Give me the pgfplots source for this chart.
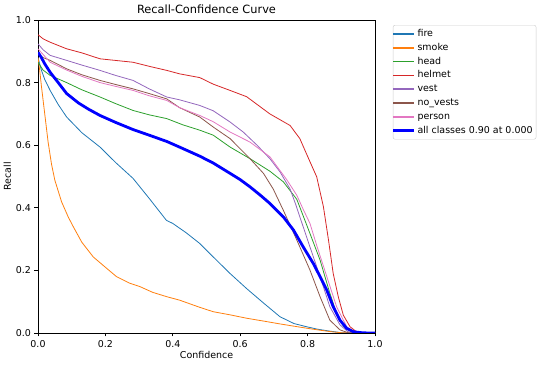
\documentclass[border=0pt]{standalone}
\usepackage{pgfplots}
\pgfplotsset{compat=1.18}
\usepackage{fontspec}
\setmainfont{DejaVu Sans}
\definecolor{cfire}{HTML}{1F77B4}
\definecolor{csmoke}{HTML}{FF7F0E}
\definecolor{chead}{HTML}{2CA02C}
\definecolor{chelmet}{HTML}{D62728}
\definecolor{cvest}{HTML}{9467BD}
\definecolor{cnovest}{HTML}{8C564B}
\definecolor{cperson}{HTML}{E377C2}
\begin{document}
\begin{tikzpicture}
\path[use as bounding box] (0,0) rectangle (550bp,367bp);
\begin{axis}[
  at={(38bp,34bp)}, anchor=south west,
  scale only axis, width=337bp, height=313bp,
  xmin=0, xmax=1, ymin=0, ymax=1,
  xtick={0,0.2,...,1}, ytick={0,0.2,...,1},
  xticklabel style={/pgf/number format/.cd,fixed,fixed zerofill,precision=1},
  yticklabel style={/pgf/number format/.cd,fixed,fixed zerofill,precision=1},
  /pgf/number format/assume math mode=true,
  tick label style={font=\fontsize{9.5}{11.4}\selectfont},
  label style={font=\fontsize{9.5}{11.4}\selectfont},
  title style={font=\fontsize{11.4}{13.7}\selectfont, yshift=-3bp},
  title={Recall-Confidence Curve},
  xlabel={Confidence}, ylabel={Recall},
  xlabel style={yshift=3bp}, ylabel style={yshift=-2bp},
  tick align=outside, major tick length=3.5bp,
  xtick pos=bottom, ytick pos=left,
  axis line style={line width=0.8bp},
  every tick/.style={black, line width=0.8bp},
  legend cell align=left,
  legend style={at={(1.053,0.984)}, anchor=north west,
    font=\fontsize{9.5}{11.4}\selectfont, draw=black!20, rounded corners=2bp,
    row sep=2.4bp, inner xsep=0bp, inner ysep=3bp,
    nodes={inner ysep=1bp, inner xsep=3.5bp, text height=7.2bp, text depth=2.2bp}},
  every axis plot/.append style={line width=0.8bp},
]
\addlegendimage{legend image code/.code={\path[fill=cfire, draw=none, sharp corners] (0bp,-0.8bp) rectangle (21bp,0.8bp);}}\addlegendentry{fire}
\addlegendimage{legend image code/.code={\path[fill=csmoke, draw=none, sharp corners] (0bp,-0.8bp) rectangle (21bp,0.8bp);}}\addlegendentry{smoke}
\addlegendimage{legend image code/.code={\path[fill=chead, draw=none, sharp corners] (0bp,-0.8bp) rectangle (21bp,0.8bp);}}\addlegendentry{head}
\addlegendimage{legend image code/.code={\path[fill=chelmet, draw=none, sharp corners] (0bp,-0.8bp) rectangle (21bp,0.8bp);}}\addlegendentry{helmet}
\addlegendimage{legend image code/.code={\path[fill=cvest, draw=none, sharp corners] (0bp,-0.8bp) rectangle (21bp,0.8bp);}}\addlegendentry{vest}
\addlegendimage{legend image code/.code={\path[fill=cnovest, draw=none, sharp corners] (0bp,-0.8bp) rectangle (21bp,0.8bp);}}\addlegendentry{no\_vests}
\addlegendimage{legend image code/.code={\path[fill=cperson, draw=none, sharp corners] (0bp,-0.8bp) rectangle (21bp,0.8bp);}}\addlegendentry{person}
\addlegendimage{legend image code/.code={\path[fill=blue, draw=none, sharp corners] (0bp,-1.4bp) rectangle (21bp,1.4bp);}}\addlegendentry{all classes 0.90 at 0.000}
% fire
\addplot[draw=cfire, forget plot] coordinates {(0,0.88) (0.01,0.84) (0.02,0.81) (0.036,0.775) (0.06,0.73) (0.085,0.69) (0.13,0.64) (0.184,0.594) (0.23,0.545) (0.282,0.494) (0.33,0.43) (0.381,0.36) (0.40,0.35) (0.44,0.32) (0.48,0.286) (0.52,0.243) (0.57,0.19) (0.619,0.142) (0.67,0.095) (0.718,0.052) (0.76,0.03) (0.797,0.02) (0.83,0.012) (0.866,0.006) (0.9,0.001) (0.93,0) (1,0)};
% smoke
\addplot[draw=csmoke, forget plot] coordinates {(0,0.88) (0.005,0.84) (0.01,0.79) (0.02,0.70) (0.03,0.61) (0.04,0.54) (0.05,0.488) (0.07,0.419) (0.09,0.37) (0.105,0.339) (0.13,0.29) (0.164,0.243) (0.2,0.21) (0.233,0.18) (0.27,0.16) (0.303,0.148) (0.34,0.13) (0.382,0.116) (0.42,0.105) (0.48,0.082) (0.52,0.068) (0.57,0.058) (0.62,0.047) (0.67,0.038) (0.718,0.029) (0.77,0.02) (0.817,0.012) (0.87,0.004) (0.9,0.001) (0.93,0) (1,0)};
% head
\addplot[draw=chead, forget plot] coordinates {(0,0.865) (0.015,0.84) (0.036,0.823) (0.085,0.80) (0.13,0.777) (0.184,0.754) (0.23,0.733) (0.282,0.711) (0.33,0.697) (0.382,0.685) (0.43,0.665) (0.48,0.648) (0.52,0.632) (0.57,0.594) (0.629,0.557) (0.688,0.517) (0.728,0.483) (0.768,0.427) (0.807,0.318) (0.837,0.233) (0.866,0.127) (0.886,0.063) (0.906,0.022) (0.93,0.004) (0.95,0) (1,0)};
% helmet
\addplot[draw=chelmet, forget plot] coordinates {(0,0.953) (0.015,0.94) (0.036,0.929) (0.085,0.908) (0.13,0.895) (0.184,0.876) (0.282,0.865) (0.33,0.852) (0.382,0.839) (0.42,0.828) (0.48,0.816) (0.52,0.795) (0.57,0.775) (0.619,0.755) (0.688,0.70) (0.748,0.663) (0.777,0.621) (0.792,0.584) (0.81,0.54) (0.827,0.499) (0.847,0.403) (0.862,0.297) (0.876,0.19) (0.891,0.116) (0.906,0.057) (0.926,0.02) (0.945,0.004) (0.97,0) (1,0)};
% vest
\addplot[draw=cvest, forget plot] coordinates {(0,0.924) (0.015,0.905) (0.036,0.887) (0.085,0.871) (0.13,0.856) (0.184,0.839) (0.23,0.823) (0.282,0.807) (0.33,0.78) (0.382,0.754) (0.42,0.745) (0.48,0.727) (0.52,0.71) (0.57,0.674) (0.609,0.642) (0.65,0.60) (0.688,0.557) (0.718,0.515) (0.748,0.46) (0.765,0.41) (0.777,0.371) (0.807,0.275) (0.837,0.18) (0.866,0.084) (0.896,0.026) (0.92,0.004) (0.94,0) (1,0)};
% no_vests
\addplot[draw=cnovest, forget plot] coordinates {(0,0.892) (0.015,0.88) (0.036,0.871) (0.085,0.844) (0.13,0.825) (0.184,0.807) (0.23,0.794) (0.282,0.78) (0.33,0.765) (0.382,0.748) (0.42,0.72) (0.48,0.69) (0.52,0.658) (0.57,0.621) (0.629,0.557) (0.669,0.51) (0.698,0.46) (0.728,0.392) (0.768,0.297) (0.807,0.201) (0.837,0.116) (0.866,0.041) (0.896,0.01) (0.92,0.001) (0.94,0) (1,0)};
% person
\addplot[draw=cperson, forget plot] coordinates {(0,0.908) (0.015,0.89) (0.036,0.865) (0.085,0.84) (0.13,0.82) (0.184,0.80) (0.23,0.788) (0.282,0.775) (0.33,0.758) (0.382,0.743) (0.42,0.72) (0.48,0.695) (0.52,0.675) (0.57,0.642) (0.629,0.61) (0.688,0.563) (0.738,0.49) (0.768,0.44) (0.787,0.395) (0.807,0.35) (0.827,0.28) (0.857,0.18) (0.886,0.084) (0.916,0.02) (0.94,0.003) (0.96,0) (1,0)};
% all classes
\addplot[draw=blue, line width=2.8bp, forget plot] coordinates {(0,0.897) (0.01,0.88) (0.02,0.86) (0.036,0.833) (0.06,0.80) (0.085,0.765) (0.12,0.735) (0.15,0.715) (0.184,0.695) (0.23,0.673) (0.282,0.650) (0.33,0.632) (0.382,0.612) (0.42,0.594) (0.48,0.565) (0.52,0.543) (0.57,0.51) (0.6,0.49) (0.629,0.467) (0.66,0.44) (0.688,0.414) (0.728,0.371) (0.758,0.329) (0.787,0.275) (0.817,0.222) (0.837,0.18) (0.857,0.137) (0.876,0.084) (0.896,0.041) (0.916,0.015) (0.936,0.004) (0.96,0.001) (0.98,0) (1,0)};
\end{axis}
\end{tikzpicture}
\end{document}
